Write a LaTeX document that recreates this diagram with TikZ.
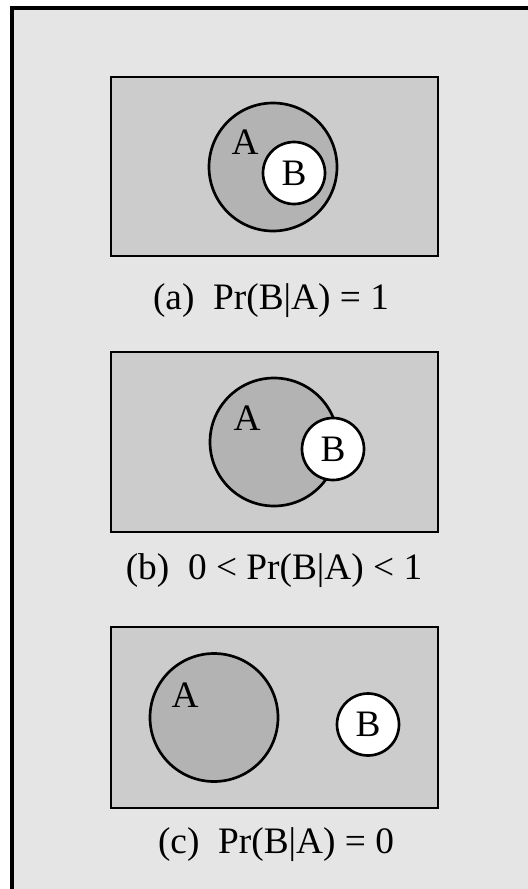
\documentclass[tikz,border=0pt]{standalone}
\usepackage{fontspec}
\setmainfont{Liberation Serif}

\definecolor{framegray}{HTML}{E5E5E5}
\definecolor{boxgray}{HTML}{CCCCCC}
\definecolor{setgray}{HTML}{B3B3B3}

\tikzset{every picture/.style={line width=0.75pt}}
\tikzset{
  universe/.style={draw, fill=boxgray, line width=2.2pt},
  setA/.style={draw, circle, fill=setgray, line width=2pt, minimum size=96pt, inner sep=0pt},
  setB/.style={draw, circle, fill=white, line width=2pt, minimum size=46.5pt, inner sep=0pt, font=\fontsize{28}{33}\selectfont},
  setlabel/.style={inner sep=0pt, font=\fontsize{28}{33}\selectfont},
  caption/.style={anchor=base, inner sep=0pt, font=\fontsize{28}{33}\selectfont}
}

\begin{document}
\begin{tikzpicture}[x=0.75pt,y=0.75pt,yscale=-1,xscale=1]
\useasboundingbox (0,0) rectangle (528,889);

%Shape: Frame
\fill [framegray] (12,8) rectangle (528,889);
\draw [line width=3pt] (12,889) -- (12,8) -- (528,8);

%Panel (a)
\draw [universe] (111,77) rectangle (438,256);
\node [setA] (a-A) at (273,167) {};
\node [setB] (a-B) at (294,173) {B};
\node [setlabel] (a-Alabel) at (245,142) {A};
% Text Node
\node [caption] (a-caption) at (271,309) {(a)\ \ Pr(B|A) = 1};

%Panel (b)
\draw [universe] (111,352) rectangle (438,532);
\node [setA] (b-A) at (274,442) {};
\node [setB] (b-B) at (333,449) {B};
\node [setlabel] (b-Alabel) at (247,418) {A};
% Text Node
\node [caption] (b-caption) at (274,579) {(b)\ \ 0 < Pr(B|A) < 1};

%Panel (c)
\draw [universe] (111,627) rectangle (438,808);
\node [setA] (c-A) at (214,717.5) {};
\node [setB] (c-B) at (368,724.5) {B};
\node [setlabel] (c-Alabel) at (185,695) {A};
% Text Node
\node [caption] (c-caption) at (276,853) {(c)\ \ Pr(B|A) = 0};

\end{tikzpicture}
\end{document}
